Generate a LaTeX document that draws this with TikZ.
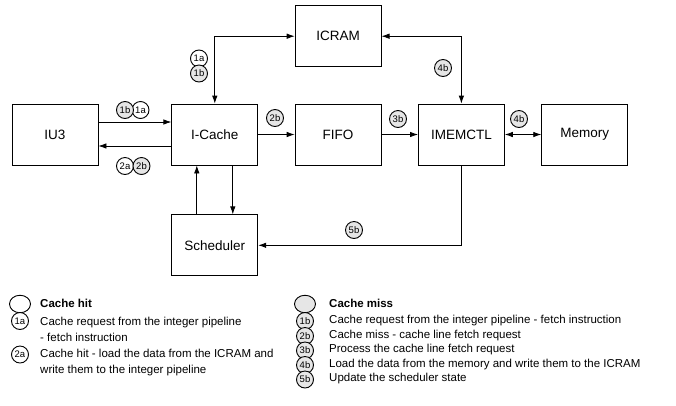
\documentclass[tikz,border=0pt]{standalone}
\usepackage{fontspec}
\setmainfont{Liberation Sans}
\usetikzlibrary{arrows.meta,positioning,shapes.geometric}
\definecolor{missGray}{HTML}{E6E6E6}

\begin{document}
\begin{tikzpicture}[x=1pt,y=-1pt,
  node distance=36.5pt and 36.5pt,
  box/.style={draw,line width=0.8pt,minimum width=86pt,minimum height=61pt,
              inner sep=0pt,font=\fontsize{13.5}{16}\selectfont},
  tag/.style={draw,circle,line width=0.9pt,fill=white,minimum size=17pt,
              inner sep=0pt,font=\fontsize{9.5}{10}\selectfont},
  hittag/.style={tag},
  misstag/.style={tag,fill=missGray},
  bigkey/.style={draw,ellipse,line width=0.9pt,fill=white,minimum width=21pt,
                 minimum height=17.5pt,inner sep=0pt},
  keytext/.style={anchor=west,inner sep=0pt,align=left,
                  font=\fontsize{11.5}{16}\selectfont},
  edge/.style={-{Latex[length=8pt,width=5.5pt]},line width=0.8pt},
  twoway/.style={{Latex[length=8pt,width=5.5pt]}-{Latex[length=8pt,width=5.5pt]},
                 line width=0.8pt}
]
  \useasboundingbox (0,0) rectangle (676,405);

  % blocks
  \node[box] (iu3) at (55,134.5) {IU3};
  \node[box,right=73pt of iu3] (icache) {I-Cache};
  \node[box,right=of icache] (fifo) {FIFO};
  \node[box,above=of fifo] (icram) {ICRAM};
  \node[box,right=of fifo] (imemctl) {IMEMCTL};
  \node[box,right=of imemctl] (memory) {Memory};
  \node[box,below=49pt of icache] (sched) {Scheduler};

  % connections
  \draw[edge] ([yshift=12.5pt]iu3.east) -- ([yshift=12.5pt]icache.west);
  \draw[edge] ([yshift=-11.5pt]icache.west) -- ([yshift=-11.5pt]iu3.east);
  \draw[twoway] (icram.west) -| (icache.north);
  \draw[edge] (icache.east) -- (fifo.west);
  \draw[edge] ([xshift=18pt]icache.south) -- ([xshift=18pt]sched.north);
  \draw[edge] ([xshift=-18pt]sched.north) -- ([xshift=-18pt]icache.south);
  \draw[edge] (fifo.east) -- (imemctl.west);
  \draw[twoway] (imemctl.east) -- (memory.west);
  \draw[twoway] (icram.east) -| (imemctl.north);
  \draw[edge] (imemctl.south) |- (sched.east);

  % step tags
  \node[hittag] (in1a) at (140.5,110) {1a};
  \node[misstag] (in1b) at (125,110) {1b};
  \node[hittag] (out2a) at (125,166) {2a};
  \node[misstag] (out2b) at (141.5,166) {2b};
  \node[hittag] (ram1a) at (199,58.5) {1a};
  \node[misstag] (ram1b) at (199,73.5) {1b};
  \node[misstag] (fifo2b) at (275,118) {2b};
  \node[misstag] (ctl3b) at (398,119) {3b};
  \node[misstag] (mem4b) at (519,119) {4b};
  \node[misstag] (ram4b) at (443,68) {4b};
  \node[misstag] (sch5b) at (354,230) {5b};

  % legend: cache hit
  \node[bigkey] (hitkey) at (20,304) {};
  \node[hittag] (k1a) at (20,321) {1a};
  \node[hittag] (k2a) at (20,354.5) {2a};
  \node[keytext] (hittxt) at (40,303.5) {\textbf{Cache hit}};
  \node[keytext] (txt1a) at (40,329) {Cache request from the integer pipeline\\- fetch instruction};
  \node[keytext] (txt2a) at (40,362.5) {Cache hit - load the data from the ICRAM and\\write them to the integer pipeline};

  % legend: cache miss
  \node[bigkey,fill=missGray] (misskey) at (305,304) {};
  \node[misstag] (k1b) at (305,321) {1b};
  \node[misstag] (k2b) at (305,336) {2b};
  \node[misstag] (k3b) at (305,350.5) {3b};
  \node[misstag] (k4b) at (305,365) {4b};
  \node[misstag] (k5b) at (305,379.5) {5b};
  \node[keytext] (misstxt) at (329,303.5) {\textbf{Cache miss}};
  \node[keytext] (txt1b) at (329,320.5) {Cache request from the integer pipeline - fetch instruction};
  \node[keytext] (txt2b) at (329,335.5) {Cache miss - cache line fetch request};
  \node[keytext] (txt3b) at (329,350) {Process the cache line fetch request};
  \node[keytext] (txt4b) at (329,364.5) {Load the data from the memory and write them to the ICRAM};
  \node[keytext] (txt5b) at (329,379) {Update the scheduler state};
\end{tikzpicture}
\end{document}
